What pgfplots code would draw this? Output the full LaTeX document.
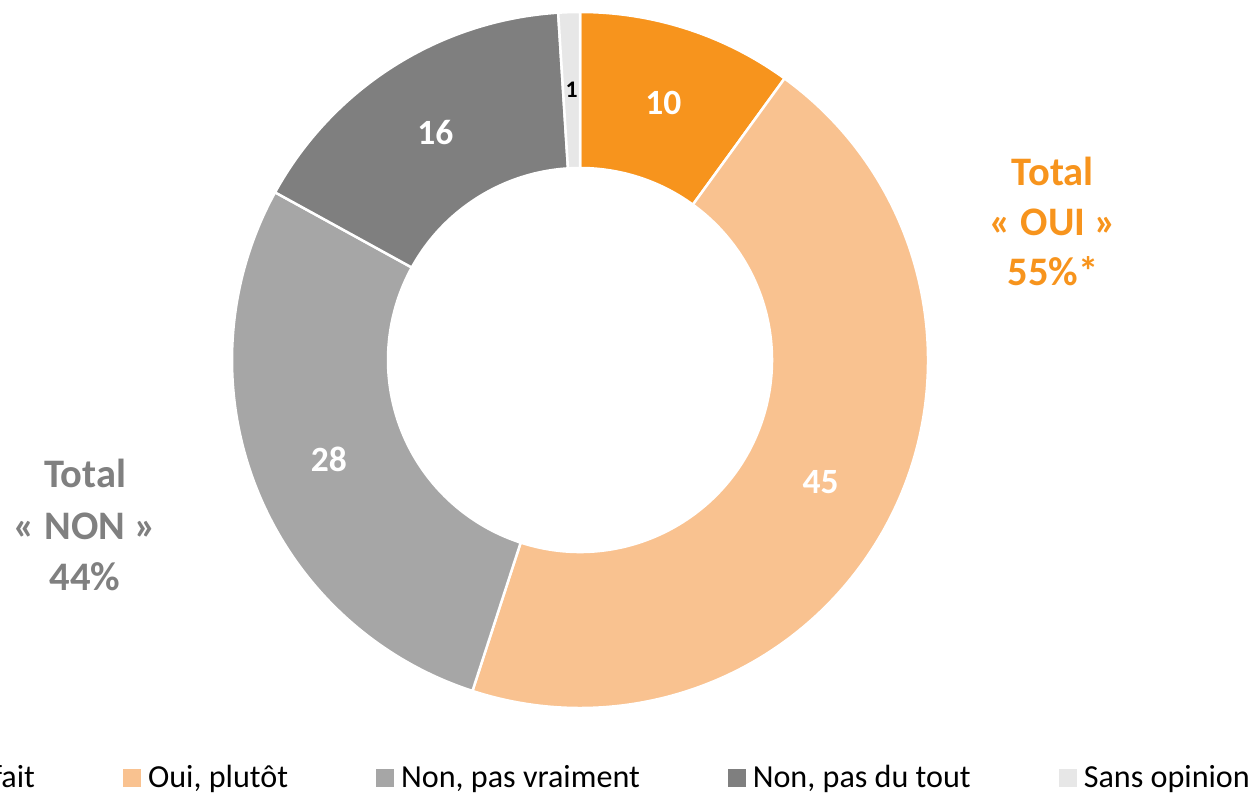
\documentclass[border=0pt]{standalone}
\usepackage{pgfplots}
\pgfplotsset{compat=1.18}
\usepackage{pgfplotstable}
\usepackage{fontspec}
\setmainfont{Carlito}
\definecolor{cOuiTout}{HTML}{F7941D}
\definecolor{cOuiPlutot}{HTML}{F9C290}
\definecolor{cNonPas}{HTML}{A6A6A6}
\definecolor{cNonTout}{HTML}{7F7F7F}
\definecolor{cSans}{HTML}{E7E7E7}
\definecolor{totOui}{HTML}{F7941D}
\definecolor{totNon}{HTML}{808080}

\pgfplotstableread{
value fillc textc size
10 cOuiTout white 14.2
45 cOuiPlutot white 14.2
28 cNonPas white 14.2
16 cNonTout white 14.2
1 cSans black 9.5
}\donutdata

\newcommand\Rout{139.2pt}
\newcommand\Rin{76.8pt}
\newcommand\Rmid{108pt}
\newcommand\Rw{62.4pt}

\begin{document}
\begin{tikzpicture}
\pgfplotstablegetrowsof{\donutdata}
\pgfmathtruncatemacro\lastrow{\pgfplotsretval-1}
\xdef\cumang{90}
\foreach \i in {0,...,\lastrow}{
  \pgfplotstablegetelem{\i}{value}\of\donutdata
  \let\vv\pgfplotsretval
  \pgfmathsetmacro\sa{\cumang}
  \pgfmathsetmacro\ea{\cumang-3.6*\vv}
  \pgfmathsetmacro\ma{(\sa+\ea)/2}
  \expandafter\xdef\csname dS\i\endcsname{\sa}
  \expandafter\xdef\csname dE\i\endcsname{\ea}
  \expandafter\xdef\csname dM\i\endcsname{\ma}
  \expandafter\xdef\csname dV\i\endcsname{\vv}
  \pgfplotstablegetelem{\i}{fillc}\of\donutdata
  \expandafter\xdef\csname dF\i\endcsname{\pgfplotsretval}
  \pgfplotstablegetelem{\i}{textc}\of\donutdata
  \expandafter\xdef\csname dT\i\endcsname{\pgfplotsretval}
  \pgfplotstablegetelem{\i}{size}\of\donutdata
  \expandafter\xdef\csname dZ\i\endcsname{\pgfplotsretval}
  \xdef\cumang{\ea}
}
\begin{axis}[
  x=139.2pt, y=139.2pt,
  xmin=-1.6667, xmax=1.9397, ymin=-1.2471, ymax=1.0345,
  hide axis, clip=false,
  legend style={draw=none, fill=none, at={(axis cs:1.948,-1.2011)}, anchor=east,
    legend columns=-1, font=\fontsize{12.85pt}{14pt}\selectfont,
    /tikz/every even column/.append style={column sep=35.2pt},
    /tikz/every odd column/.append style={column sep=2.8pt},
    nodes={inner sep=0pt}},
  legend cell align=left,
]
\coordinate (O) at (axis cs:0,0);
\coordinate (LL) at (rel axis cs:0,0);
\coordinate (UR) at (rel axis cs:1,1);
\pgfplotsinvokeforeach{0,...,4}{
  \edef\slicecmd{\noexpand\fill[fill=\csname dF#1\endcsname, draw=white, line width=1pt, line join=round]
    (O) ++(\csname dS#1\endcsname:\Rout) arc[start angle=\csname dS#1\endcsname, end angle=\csname dE#1\endcsname, radius=\Rout]
    -- ++(\csname dE#1\endcsname:-\Rw) arc[start angle=\csname dE#1\endcsname, end angle=\csname dS#1\endcsname, radius=\Rin] -- cycle;}
  \slicecmd
}
\pgfplotsinvokeforeach{0,...,4}{
  \edef\labelcmd{\noexpand\path (O) ++(\csname dM#1\endcsname:\Rmid)
    node[text=\csname dT#1\endcsname, font=\noexpand\fontsize{\csname dZ#1\endcsname pt}{\csname dZ#1\endcsname pt}\noexpand\selectfont\noexpand\bfseries] {\csname dV#1\endcsname};}
  \labelcmd
}
\addlegendimage{legend image code/.code={\fill[cOuiTout] (0pt,-3.4pt) rectangle (6.8pt,3.4pt);}}
\addlegendentry{Oui, tout à fait}
\addlegendimage{legend image code/.code={\fill[cOuiPlutot] (0pt,-3.4pt) rectangle (6.8pt,3.4pt);}}
\addlegendentry{Oui, plutôt}
\addlegendimage{legend image code/.code={\fill[cNonPas] (0pt,-3.4pt) rectangle (6.8pt,3.4pt);}}
\addlegendentry{Non, pas vraiment}
\addlegendimage{legend image code/.code={\fill[cNonTout] (0pt,-3.4pt) rectangle (6.8pt,3.4pt);}}
\addlegendentry{Non, pas du tout}
\addlegendimage{legend image code/.code={\fill[cSans] (0pt,-3.4pt) rectangle (6.8pt,3.4pt);}}
\addlegendentry{Sans opinion}
\node[text=totOui, font=\fontsize{16.2pt}{20pt}\selectfont\bfseries, align=center] at (axis cs:1.359,0.3994) {Total\\«~OUI~»\\55\%*};
\node[text=totNon, font=\fontsize{16.2pt}{20.5pt}\selectfont\bfseries, align=center] at (axis cs:-1.4224,-0.4741) {Total\\«~NON~»\\44\%};
\end{axis}
\pgfresetboundingbox
\path[use as bounding box] (LL) rectangle (UR);
\end{tikzpicture}
\end{document}
